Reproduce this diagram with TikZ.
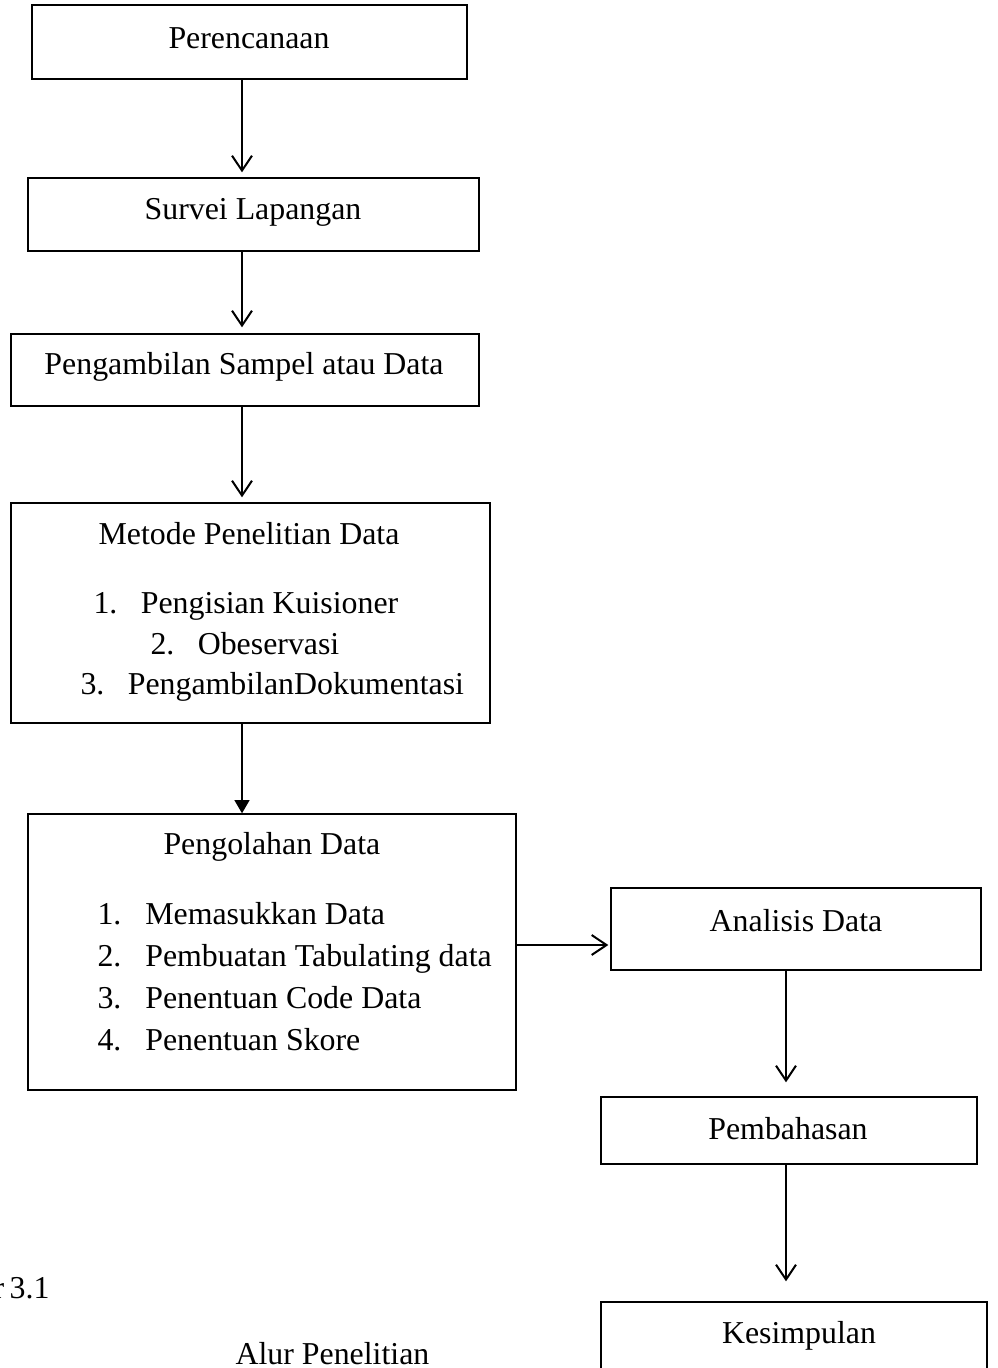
\documentclass[tikz,border=0pt]{standalone}
\usepackage{fontspec}
\setmainfont{Liberation Serif}
\usetikzlibrary{arrows.meta,fit}
\begin{document}
\begin{tikzpicture}[x=0.3766pt,y=-0.3766pt,
  box/.style={draw, line width=0.5pt, inner sep=0pt},
  txt/.style={inner sep=0pt, font=\fontsize{12pt}{14pt}\selectfont, text height=8.4pt, text depth=3pt},
  arr/.style={line width=0.75pt, -{Straight Barb[length=5.6pt,width=7.5pt]}},
  farr/.style={line width=0.75pt, -{Triangle[length=5pt,width=5.6pt]}}]
\clip (0,0) rectangle (998,1368);
% boxes
\node[box, fit={(32,5)(467,79)}] (p1) {};
\node[box, fit={(28,178)(479,251)}] (p2) {};
\node[box, fit={(11,334)(479,406)}] (p3) {};
\node[box, fit={(11,503)(490,723)}] (p4) {};
\node[box, fit={(28,814)(516,1090)}] (p5) {};
\node[box, fit={(611,888)(981,970)}] (p6) {};
\node[box, fit={(601,1097)(977,1164)}] (p7) {};
\node[box, fit={(601,1302)(987,1400)}] (p8) {};
% texts
\node[txt] (t1) at (249,41) {Perencanaan};
\node[txt] (t2) at (253,212) {Survei Lapangan};
\node[txt] (t3) at (244,367) {Pengambilan Sampel atau Data};
\node[txt] (t4) at (249,537) {Metode Penelitian Data};
\node[txt, anchor=west] (m1) at (93,606) {\makebox[17.8pt][l]{1.}Pengisian Kuisioner};
\node[txt, anchor=west] (m2) at (150,647) {\makebox[17.8pt][l]{2.}Obeservasi};
\node[txt, anchor=west] (m3) at (80,687) {\makebox[17.8pt][l]{3.}PengambilanDokumentasi};
\node[txt, anchor=west] (t5) at (163,847) {Pengolahan Data};
\node[txt, anchor=west] (o1) at (97,917) {\makebox[18pt][l]{1.}Memasukkan Data};
\node[txt, anchor=west] (o2) at (97,959) {\makebox[18pt][l]{2.}Pembuatan Tabulating data};
\node[txt, anchor=west] (o3) at (97,1001) {\makebox[18pt][l]{3.}Penentuan Code Data};
\node[txt, anchor=west] (o4) at (97,1043) {\makebox[18pt][l]{4.}Penentuan Skore};
\node[txt] (t6) at (796,924) {Analisis Data};
\node[txt] (t7) at (788,1132) {Pembahasan};
\node[txt] (t8) at (799,1336) {Kesimpulan};
\node[txt, anchor=west] (cap) at (235,1357) {Alur Penelitian};
\node[txt, anchor=east] (fig) at (50,1291) {Gambar\hspace{-1pt} 3.1};
% connectors
\coordinate (ax) at (242,0);
\coordinate (bx) at (786,0);
\coordinate (ay) at (0,945);
\draw[arr, shorten >=5pt*0.3766] (p1.south -| ax) -- (p2.north -| ax);
\draw[arr, shorten >=6pt*0.3766] (p2.south -| ax) -- (p3.north -| ax);
\draw[arr, shorten >=5pt*0.3766] (p3.south -| ax) -- (p4.north -| ax);
\draw[farr] (p4.south -| ax) -- (p5.north -| ax);
\draw[arr, shorten >=2pt*0.3766] (p5.east |- ay) -- (p6.west |- ay);
\draw[arr, shorten >=14pt*0.3766] (p6.south -| bx) -- (p7.north -| bx);
\draw[arr, shorten >=20pt*0.3766] (p7.south -| bx) -- (p8.north -| bx);
\end{tikzpicture}
\end{document}
